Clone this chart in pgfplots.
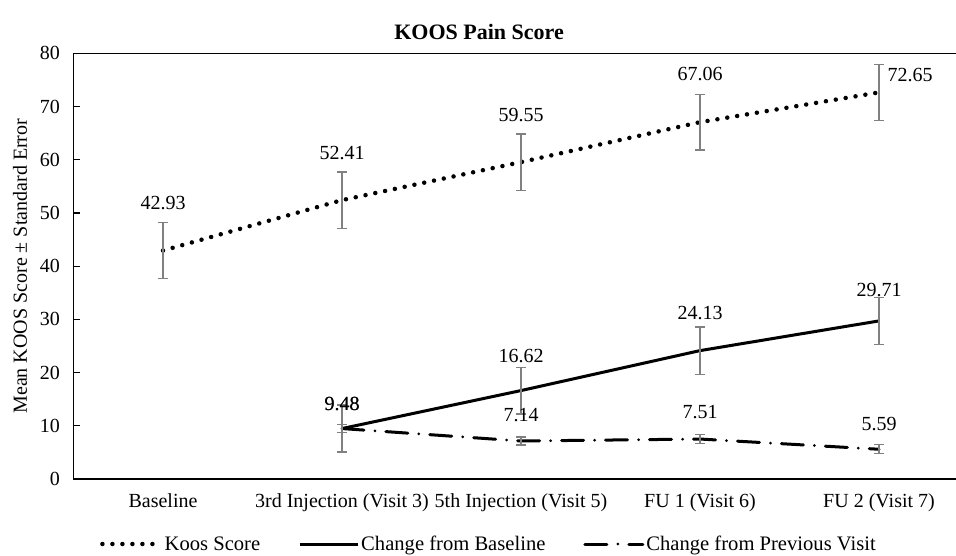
\documentclass[border=0pt]{standalone}
\usepackage{fontspec}
\setmainfont{Liberation Serif}
\usepackage{pgfplots}
\usepackage{pgfplotstable}
\pgfplotsset{compat=1.18}

\pgfplotstableread{
x y err dx dy
0 42.93 5.3 0 48
1 52.41 5.3 0 47
2 59.55 5.3 0 47
3 67.06 5.25 0 48
4 72.65 5.25 31 17
}\koos

\pgfplotstableread{
x y err dx dy
1 9.48 4.4 0 25
2 16.62 4.4 0 35
3 24.13 4.45 0 38
4 29.71 4.4 0 31
}\cfb

\pgfplotstableread{
x y err dx dy
1 9.48 0.8 0 25
2 7.14 0.75 0 25.5
3 7.51 0.8 0 26.5
4 5.59 0.85 0 25
}\cfp

\newcommand{\fs}{\fontsize{20}{24}\selectfont}
\newcommand{\fl}{\fontsize{20.6}{24}\selectfont}

\begin{document}
\begin{tikzpicture}
\begin{axis}[
  scale only axis, width=882.5pt, height=425.7pt,
  xmin=-0.5, xmax=4.43, ymin=0, ymax=80,
  axis x line*=box, axis y line*=left,
  axis line style={black, line width=1.5pt},
  clip=false,
  font=\fs,
  xtick={0,1,2,3,4},
  xticklabels={Baseline, 3rd Injection (Visit 3), 5th Injection (Visit 5), FU 1 (Visit 6), FU 2 (Visit 7)},
  xtick style={draw=none},
  xticklabel style={font=\fs, yshift=-11pt},
  ytick={0,10,...,80},
  ytick style={black, line width=1.2pt},
  major tick length=7pt,
  tick align=inside,
  yticklabel style={font=\fs, xshift=-10pt},
  /pgf/number format/assume math mode=true,
  ylabel={Mean KOOS Score ± Standard Error},
  ylabel style={font=\fs, at={(axis description cs:-0.0606,0.5)}, anchor=center},
  legend style={at={(axis description cs:0.4708,-0.1527)}, anchor=center, draw=none, fill=none,
    legend columns=3, font=\fl, /tikz/every even column/.append style={column sep=36pt}},
  legend image code/.code={\draw[#1] (0pt,0pt) -- (58pt,0pt);},
  visualization depends on={\thisrow{dx} \as \dx},
  visualization depends on={\thisrow{dy} \as \dy},
  nodes near coords={\pgfmathprintnumber[fixed,fixed zerofill,precision=2,assume math mode=true]{\pgfplotspointmeta}},
  point meta=y,
  nodes near coords style={anchor=center, xshift=\dx, yshift=\dy, font=\fs, text=black, inner sep=0pt},
  error bars/error bar style={gray, solid, line width=1.3pt, line cap=butt},
  error bars/error mark options={rotate=90, mark size=5pt, gray, solid, line width=1.3pt},
]
\coordinate (O) at (rel axis cs:0,0);
\addplot[black, line width=4.5pt, line cap=round, dash pattern=on 0pt off 10pt, mark=none,
  error bars/.cd, y dir=both, y explicit]
  table[x=x, y=y, y error=err] {\koos};
\addlegendentry{Koos Score}
\addplot[black, line width=3pt, mark=none,
  error bars/.cd, y dir=both, y explicit]
  table[x=x, y=y, y error=err] {\cfb};
\addlegendentry{Change from Baseline}
\addplot[black, line width=3pt, line cap=round, dash pattern=on 22pt off 11pt on 0pt off 11pt, mark=none,
  error bars/.cd, y dir=both, y explicit]
  table[x=x, y=y, y error=err] {\cfp};
\addlegendentry{Change from Previous Visit}
\node[font=\fontsize{22}{26}\selectfont\bfseries, anchor=center] at (axis description cs:0.4595,1.0493) {KOOS Pain Score};
\end{axis}
\pgfresetboundingbox
\path[use as bounding box] ([xshift=-73.5pt,yshift=-76pt]O) rectangle ([xshift=882.5pt,yshift=479pt]O);
\end{tikzpicture}
\end{document}
